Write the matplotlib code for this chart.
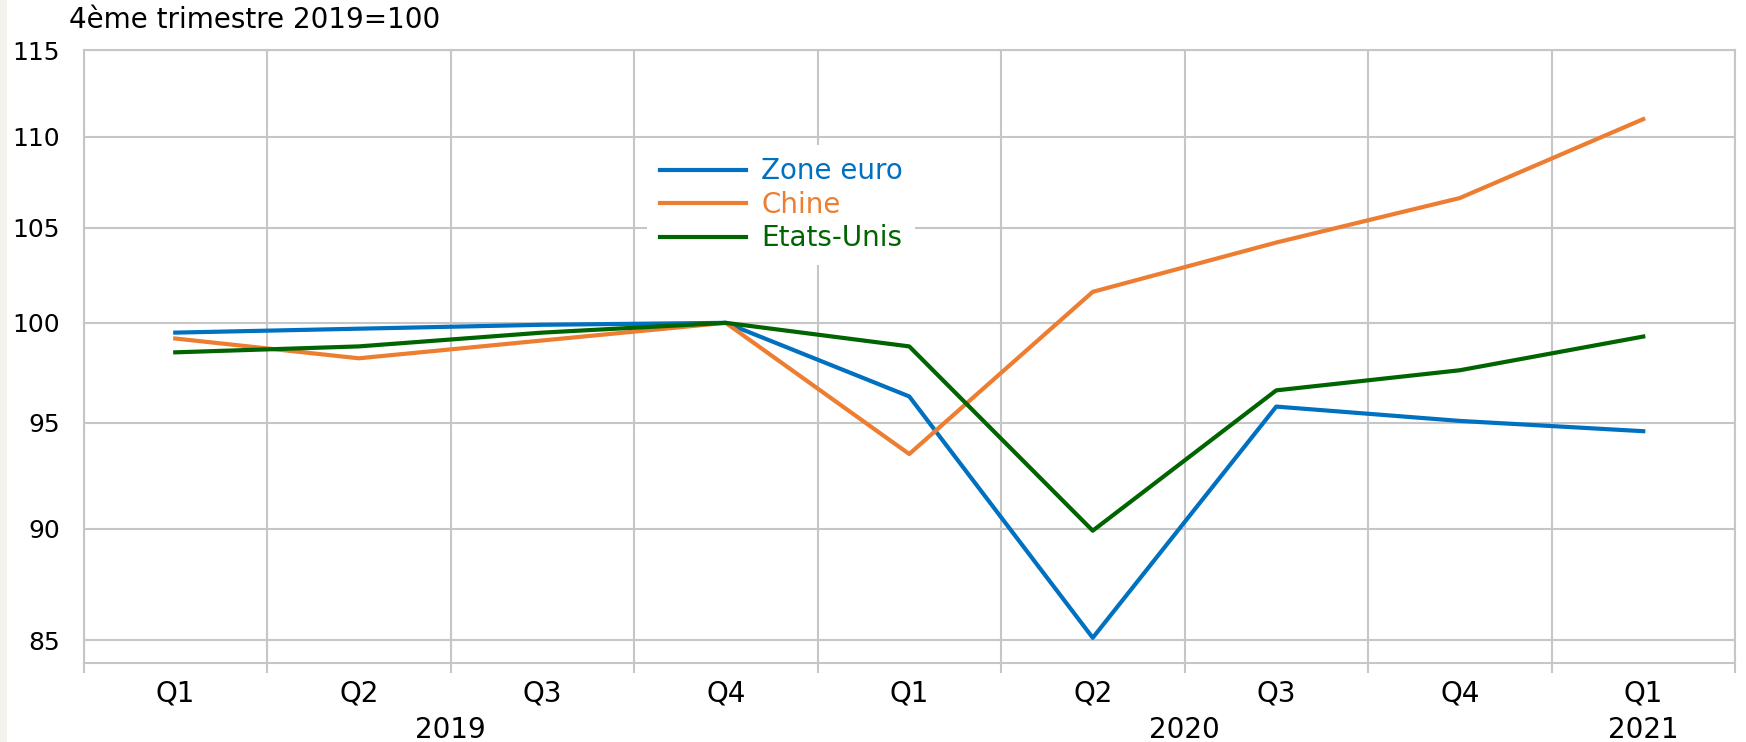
import matplotlib.pyplot as plt
from matplotlib.patches import Rectangle
from matplotlib.ticker import FixedLocator, NullFormatter, NullLocator
from matplotlib.transforms import blended_transform_factory

quarters = ["Q1", "Q2", "Q3", "Q4", "Q1", "Q2", "Q3", "Q4", "Q1"]
years = ["2019", "2020", "2021"]
year_pos = [1.5, 5.5, 8]

zone_euro = [99.5, 99.7, 99.9, 100.0, 96.3, 85.1, 95.8, 95.1, 94.6]
chine = [99.2, 98.2, 99.1, 100.0, 93.5, 101.6, 104.2, 106.6, 111.0]
etats_unis = [98.5, 98.8, 99.5, 100.0, 98.8, 89.9, 96.6, 97.6, 99.3]

y_ticks = [85, 90, 95, 100, 105, 110, 115]

grid_col = "#c6c6c6"
fs = 20

fig = plt.figure(figsize=(17.46, 7.42), dpi=100)
# thin beige strip on the left edge
fig.patches.append(Rectangle((0, 0), 7 / 1746, 1, transform=fig.transFigure,
                             facecolor="#f4f2ed", edgecolor="none"))
ax = fig.add_axes([83.5 / 1746, 1 - 662.5 / 742, 1651.5 / 1746, 612.5 / 742])

x = range(len(quarters))
ax.plot(x, zone_euro, color="#0070c0", lw=3, label="Zone euro")
ax.plot(x, chine, color="#ed7d31", lw=3, label="Chine")
ax.plot(x, etats_unis, color="#006400", lw=3, label="Etats-Unis")

ax.set_yscale("log")
ax.set_ylim(84.03, 115)
ax.set_xlim(-0.5, len(quarters) - 0.5)
ax.yaxis.set_major_locator(FixedLocator(y_ticks))
ax.yaxis.set_minor_locator(NullLocator())
ax.yaxis.set_minor_formatter(NullFormatter())
ax.set_yticklabels([str(v) for v in y_ticks])

ax.set_xticks(list(x))
ax.set_xticklabels(quarters)
ax.set_xticks([i - 0.5 for i in range(len(quarters) + 1)], minor=True)

ax.tick_params(axis="x", which="major", length=0, pad=12, labelsize=fs)
ax.tick_params(axis="x", which="minor", length=7, width=1.5, color=grid_col)
ax.tick_params(axis="y", which="major", length=0, pad=17, labelsize=18)

ax.grid(True, axis="y", which="major", color=grid_col, lw=1.5)
ax.grid(True, axis="x", which="minor", color=grid_col, lw=1.5)
ax.grid(False, axis="x", which="major")
ax.set_axisbelow(True)
for s in ax.spines.values():
    s.set_color(grid_col)
    s.set_linewidth(1.5)

trans = blended_transform_factory(ax.transData, fig.transFigure)
for yr, p in zip(years, year_pos):
    ax.text(p, 1 - 730 / 742, yr, transform=trans, ha="center", va="center",
            fontsize=fs)

fig.text(69 / 1746, 1 - 20 / 742, "4ème trimestre 2019=100", ha="left",
         va="center", fontsize=fs)

leg = ax.legend(loc="upper left", bbox_to_anchor=(0.333, 0.868), fontsize=fs,
                frameon=True, facecolor="white", edgecolor="none", framealpha=1,
                fancybox=False, handlelength=3.1, labelspacing=0.2,
                borderpad=0.45, handletextpad=0.55, labelcolor="linecolor")

fig.savefig("out.png", dpi=100)
